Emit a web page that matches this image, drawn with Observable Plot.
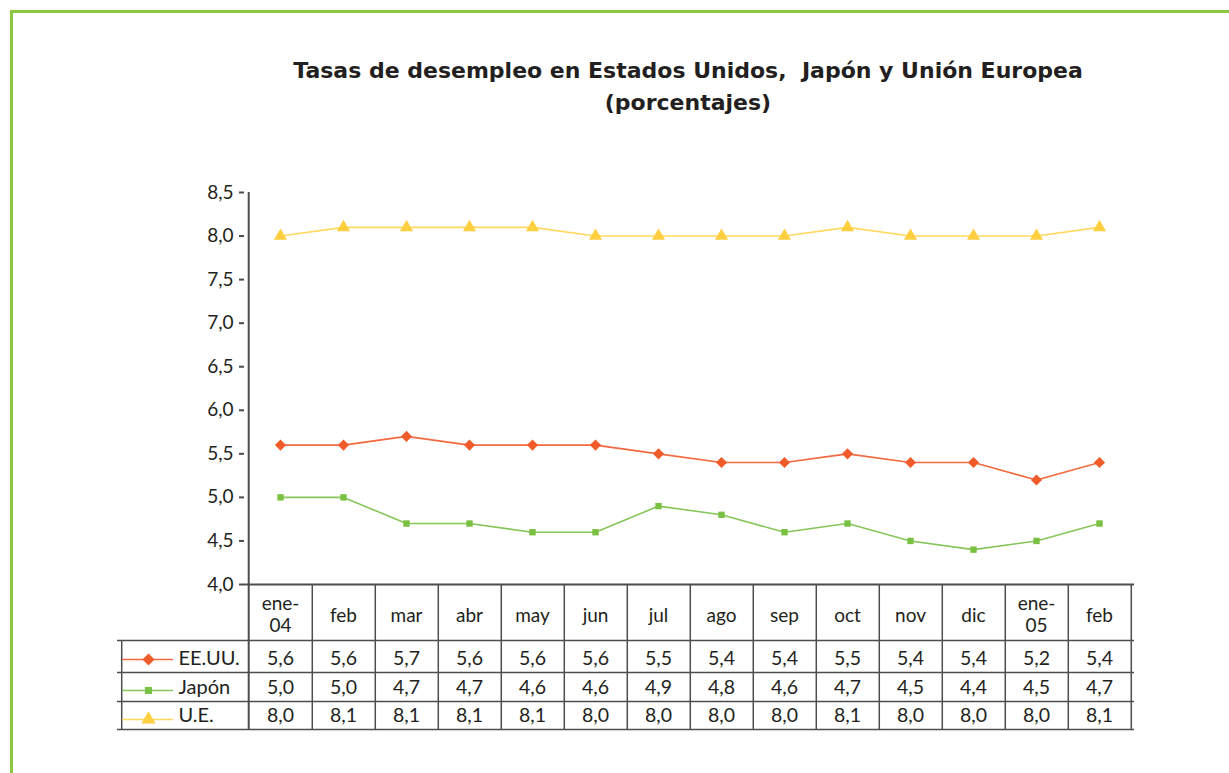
<!DOCTYPE html>
<html><head><meta charset="utf-8">
<script src="https://cdn.jsdelivr.net/npm/d3@7"></script>
<script src="https://cdn.jsdelivr.net/npm/@observablehq/plot@0.6"></script>
<style>
body{margin:0;background:#fff;font-family:Lato,"Open Sans",sans-serif;color:#231f20}
#wrap{position:relative;width:1229px;height:773px;overflow:hidden;background:#fff}
#border{position:absolute;left:10px;top:10px;width:1240px;height:800px;border-top:3px solid #8dc63f;border-left:3px solid #8dc63f;box-sizing:border-box}
#title{position:absolute;left:238px;width:900px;top:55px;text-align:center;font-family:"DejaVu Sans",sans-serif;font-weight:bold;font-size:22px;line-height:32px;color:#231f20;z-index:2}
#chart{position:absolute;left:0;top:0}
</style></head>
<body><div id="wrap"><div id="border"></div>
<div id="title">Tasas de desempleo en Estados Unidos,&nbsp; Japón y Unión Europea<br>(porcentajes)</div>
<div id="chart"></div></div>
<script>
const months = ["ene-04","feb-04","mar-04","abr-04","may-04","jun-04","jul-04","ago-04","sep-04","oct-04","nov-04","dic-04","ene-05","feb-05"];
const monthLabels = ["ene-\n04","feb","mar","abr","may","jun","jul","ago","sep","oct","nov","dic","ene-\n05","feb"];
const eeuu  = [5.6,5.6,5.7,5.6,5.6,5.6,5.5,5.4,5.4,5.5,5.4,5.4,5.2,5.4];
const japon = [5.0,5.0,4.7,4.7,4.6,4.6,4.9,4.8,4.6,4.7,4.5,4.4,4.5,4.7];
const ue    = [8.0,8.1,8.1,8.1,8.1,8.0,8.0,8.0,8.0,8.1,8.0,8.0,8.0,8.1];
const seriesNames = ["EE.UU.","Japón","U.E."];
const seriesColors = ["#f15a29","#7ac143","#ffcf3f"];
const lineColors = ["#f26a3d","#86c659","#ffd95e"];
const seriesSymbols = ["diamond2","square","triangle"];
const symbolR = [5.0,3.6,4.9];
const yTicks = [4.0,4.5,5.0,5.5,6.0,6.5,7.0,7.5,8.0,8.5];

const seriesValues = [eeuu, japon, ue];
const fmt = v => v.toFixed(1).replace(".", ",");

const W = 1229, H = 773, mL = 244, mR = 95, mT = 192, mB = 189;
const frameW = W - mL - mR, frameH = H - mT - mB;
const bw = frameW / months.length;
const legendW = 127;
const rowBottoms = [56, 88, 117, 145];   // offsets below x axis
const rowText = [80, 109, 137];
const legendLine = [75, 106, 135];
const gridColor = "#4d4d4f";

const marks = [];
// table grid
marks.push(Plot.ruleX(months, {x: d => d, dx: bw / 2, insetTop: frameH, insetBottom: -rowBottoms[3], stroke: gridColor, strokeWidth: 1.5}));
marks.push(Plot.ruleX([months[0]], {x: d => d, dx: -bw / 2, insetBottom: -rowBottoms[3], stroke: gridColor, strokeWidth: 2}));
marks.push(Plot.ruleX([months[0]], {x: d => d, dx: -bw / 2 - legendW, insetTop: frameH + rowBottoms[0], insetBottom: -rowBottoms[3], stroke: gridColor, strokeWidth: 1.5}));
rowBottoms.forEach(off => {
  marks.push(Plot.ruleY([4], {y: d => d, dy: off, insetLeft: -legendW, stroke: gridColor, strokeWidth: 1.5}));
});
marks.push(Plot.ruleY([4], {y: d => d, stroke: gridColor, strokeWidth: 2}));
// header labels (single line and two-line)
const headerData = months.map((m, i) => ({m, lines: monthLabels[i].split("\n")}));
marks.push(Plot.text(headerData.filter(d => d.lines.length === 1), {x: "m", text: d => d.lines[0], frameAnchor: "bottom", dy: 37, fontSize: 19, fill: "#231f20"}));
marks.push(Plot.text(headerData.filter(d => d.lines.length === 2), {x: "m", text: d => d.lines[0], frameAnchor: "bottom", dy: 25, fontSize: 19, fill: "#231f20"}));
marks.push(Plot.text(headerData.filter(d => d.lines.length === 2), {x: "m", text: d => d.lines[1], frameAnchor: "bottom", dy: 47, fontSize: 19, fill: "#231f20"}));
// series
seriesValues.forEach((vals, s) => {
  const data = months.map((m, i) => ({m, v: vals[i]}));
  marks.push(Plot.line(data, {x: "m", y: "v", stroke: lineColors[s], strokeWidth: 1.6}));
  marks.push(Plot.dot(data, {x: "m", y: "v", symbol: seriesSymbols[s], r: symbolR[s], fill: seriesColors[s], stroke: "none"}));
  marks.push(Plot.text(data, {x: "m", text: d => fmt(d.v), frameAnchor: "bottom", dy: rowText[s], fontSize: 19.5, fill: "#231f20"}));
  // legend in table
  marks.push(Plot.ruleY([4], {y: d => d, dy: legendLine[s], insetLeft: -(mL - 122), insetRight: frameW + (mL - 173), stroke: lineColors[s], strokeWidth: 1.6}));
  marks.push(Plot.dot([seriesNames[s]], {frameAnchor: "bottom-left", dx: 148 - mL, dy: legendLine[s], symbol: seriesSymbols[s], r: symbolR[s] + 0.4, fill: seriesColors[s]}));
  marks.push(Plot.text([seriesNames[s]], {text: d => d, frameAnchor: "bottom-left", dx: 178 - mL, dy: rowText[s], textAnchor: "start", fontSize: 20, fill: "#231f20"}));
});
marks.push(Plot.axisY({ticks: yTicks, tickFormat: fmt, tickSize: 5, tickPadding: 6, fontSize: 19, label: null, stroke: gridColor, strokeWidth: 2, fill: "#231f20"}));

const chart = Plot.plot({
  width: W, height: H,
  marginLeft: mL, marginRight: mR, marginTop: mT, marginBottom: mB,
  style: {fontFamily: "Lato, 'Open Sans', sans-serif", overflow: "visible", background: "transparent", color: "#231f20"},
  x: {type: "point", domain: months, padding: 0.5, axis: null},
  y: {domain: [4, 8.5], axis: null},
  marks
});
document.getElementById("chart").appendChild(chart);
</script>
</body></html>
